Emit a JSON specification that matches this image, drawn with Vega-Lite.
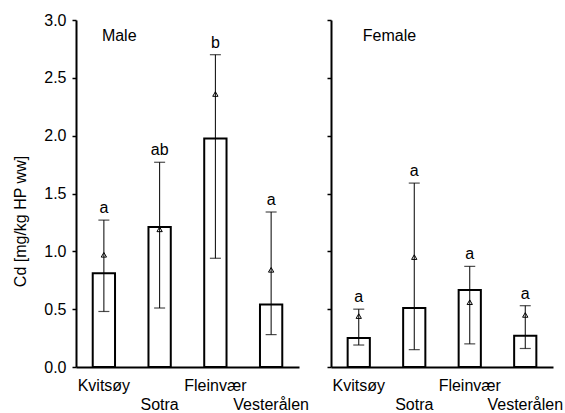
{
  "$schema": "https://vega.github.io/schema/vega-lite/v6.json",
  "background": "white",
  "padding": {"left": 12, "top": 12, "right": 0, "bottom": 0},
  "config": {
    "view": {"stroke": null},
    "font": "Liberation Sans",
    "axis": {
      "domainColor": "black",
      "domainWidth": 2,
      "tickColor": "black",
      "labelColor": "black",
      "titleColor": "black",
      "labelFontSize": 16,
      "titleFontSize": 16,
      "titleFontWeight": "normal",
      "grid": false
    },
    "text": {"fontSize": 16, "color": "black"}
  },
  "data": {
    "values": [
      {"sex": "Male", "site": "Kvitsøy", "mean": 0.81, "lo": 0.48, "hi": 1.27, "tri": 0.97, "letter": "a"},
      {"sex": "Male", "site": "Sotra", "mean": 1.21, "lo": 0.51, "hi": 1.77, "tri": 1.19, "letter": "ab"},
      {"sex": "Male", "site": "Fleinvær", "mean": 1.976, "lo": 0.94, "hi": 2.70, "tri": 2.36, "letter": "b"},
      {"sex": "Male", "site": "Vesterålen", "mean": 0.54, "lo": 0.28, "hi": 1.34, "tri": 0.84, "letter": "a"},
      {"sex": "Female", "site": "Kvitsøy", "mean": 0.25, "lo": 0.19, "hi": 0.50, "tri": 0.44, "letter": "a"},
      {"sex": "Female", "site": "Sotra", "mean": 0.51, "lo": 0.15, "hi": 1.59, "tri": 0.95, "letter": "a"},
      {"sex": "Female", "site": "Fleinvær", "mean": 0.665, "lo": 0.20, "hi": 0.87, "tri": 0.56, "letter": "a"},
      {"sex": "Female", "site": "Vesterålen", "mean": 0.27, "lo": 0.16, "hi": 0.53, "tri": 0.45, "letter": "a"}
    ]
  },
  "bounds": "flush",
  "spacing": 32,
  "hconcat": [
    {
      "width": 223,
      "height": 347,
      "transform": [{"filter": "datum.sex == 'Male'"}],
      "encoding": {
        "x": {
          "field": "site", "type": "nominal",
          "sort": ["Kvitsøy", "Sotra", "Fleinvær", "Vesterålen"],
          "scale": {"paddingInner": 0.6, "paddingOuter": 0.3},
          "title": null,
          "axis": {"ticks": false, "labelAngle": 0, "labelPadding": 10, "labelLineHeight": 19,
                   "labelExpr": "(datum.value == 'Sotra' || datum.value == 'Vesterålen') ? ['', datum.value] : datum.value"}
        }
      },
      "layer": [
        {
          "mark": {"type": "bar", "fill": "white", "stroke": "black", "strokeWidth": 2},
          "encoding": {
            "y": {"field": "mean", "type": "quantitative", "scale": {"domain": [0, 3], "nice": false},
                  "title": "Cd [mg/kg HP ww]",
                  "axis": {"values": [0, 0.5, 1, 1.5, 2, 2.5, 3], "format": ".1f", "tickSize": 4, "tickWidth": 1.5, "labelPadding": 6,
                           "titleX": -48, "titleY": 201}}
          }
        },
        {
          "mark": {"type": "rule", "color": "black", "strokeWidth": 1},
          "encoding": {"y": {"field": "lo", "type": "quantitative", "title": "Cd [mg/kg HP ww]"}, "y2": {"field": "hi"}}
        },
        {
          "mark": {"type": "tick", "color": "black", "size": 11, "thickness": 1.2},
          "encoding": {"y": {"field": "lo", "type": "quantitative", "title": "Cd [mg/kg HP ww]"}}
        },
        {
          "mark": {"type": "tick", "color": "black", "size": 11, "thickness": 1.2},
          "encoding": {"y": {"field": "hi", "type": "quantitative", "title": "Cd [mg/kg HP ww]"}}
        },
        {
          "mark": {"type": "point", "shape": "triangle-up", "filled": false, "stroke": "black", "strokeWidth": 1, "size": 28, "opacity": 1},
          "encoding": {"y": {"field": "tri", "type": "quantitative", "title": "Cd [mg/kg HP ww]"}}
        },
        {
          "mark": {"type": "text", "dy": -7, "baseline": "alphabetic"},
          "encoding": {"y": {"field": "hi", "type": "quantitative", "title": "Cd [mg/kg HP ww]"}, "text": {"field": "letter"}}
        },
        {
          "transform": [{"filter": "datum.site == 'Kvitsøy'"}],
          "mark": {"type": "text", "align": "left", "baseline": "alphabetic", "dx": -2},
          "encoding": {"y": {"datum": 2.82, "type": "quantitative", "title": "Cd [mg/kg HP ww]"}, "text": {"field": "sex"}}
        }
      ]
    },
    {
      "width": 222,
      "height": 347,
      "transform": [{"filter": "datum.sex == 'Female'"}],
      "encoding": {
        "x": {
          "field": "site", "type": "nominal",
          "sort": ["Kvitsøy", "Sotra", "Fleinvær", "Vesterålen"],
          "scale": {"paddingInner": 0.6, "paddingOuter": 0.3},
          "title": null,
          "axis": {"ticks": false, "labelAngle": 0, "labelPadding": 10, "labelLineHeight": 19,
                   "labelExpr": "(datum.value == 'Sotra' || datum.value == 'Vesterålen') ? ['', datum.value] : datum.value"}
        }
      },
      "layer": [
        {
          "mark": {"type": "bar", "fill": "white", "stroke": "black", "strokeWidth": 2},
          "encoding": {
            "y": {"field": "mean", "type": "quantitative", "scale": {"domain": [0, 3], "nice": false},
                  "title": null,
                  "axis": {"values": [0, 0.5, 1, 1.5, 2, 2.5, 3], "labels": false, "tickSize": 4, "tickWidth": 1.5}}
          }
        },
        {
          "mark": {"type": "rule", "color": "black", "strokeWidth": 1},
          "encoding": {"y": {"field": "lo", "type": "quantitative", "title": null}, "y2": {"field": "hi"}}
        },
        {
          "mark": {"type": "tick", "color": "black", "size": 11, "thickness": 1.2},
          "encoding": {"y": {"field": "lo", "type": "quantitative", "title": null}}
        },
        {
          "mark": {"type": "tick", "color": "black", "size": 11, "thickness": 1.2},
          "encoding": {"y": {"field": "hi", "type": "quantitative", "title": null}}
        },
        {
          "mark": {"type": "point", "shape": "triangle-up", "filled": false, "stroke": "black", "strokeWidth": 1, "size": 28, "opacity": 1},
          "encoding": {"y": {"field": "tri", "type": "quantitative", "title": null}}
        },
        {
          "mark": {"type": "text", "dy": -7, "baseline": "alphabetic"},
          "encoding": {"y": {"field": "hi", "type": "quantitative", "title": null}, "text": {"field": "letter"}}
        },
        {
          "transform": [{"filter": "datum.site == 'Kvitsøy'"}],
          "mark": {"type": "text", "align": "left", "baseline": "alphabetic", "dx": 4},
          "encoding": {"y": {"datum": 2.82, "type": "quantitative", "title": null}, "text": {"field": "sex"}}
        }
      ]
    }
  ]
}
